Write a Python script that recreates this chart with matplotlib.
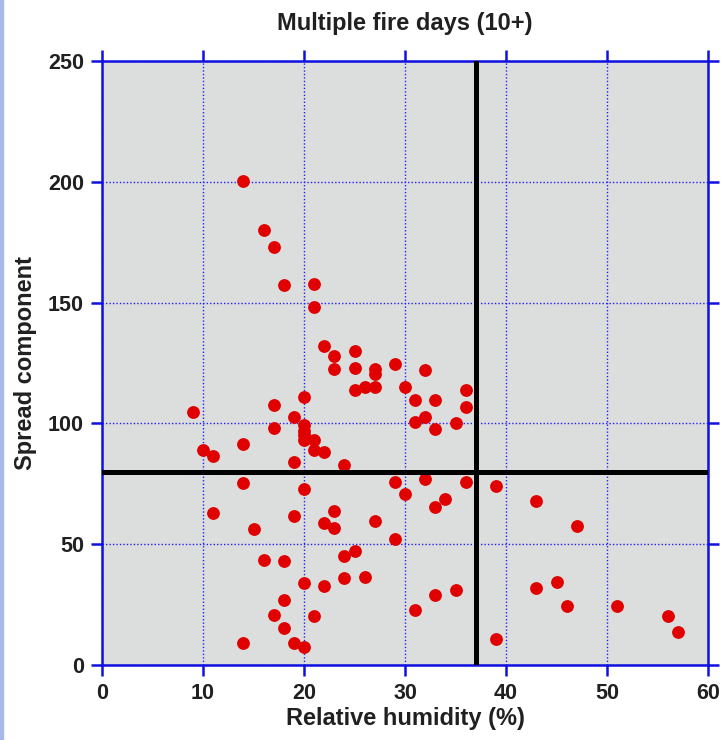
import numpy as np
import matplotlib.pyplot as plt
from matplotlib.patches import Rectangle

# datos
humedad = [14, 16, 17, 18, 21, 21, 22, 23, 23, 25, 25, 27, 27, 27, 26, 25, 29, 30,
           32, 31, 33, 36, 36, 32, 31, 35, 33, 20, 17, 9, 19, 20, 20, 20, 20, 17,
           21, 14, 10, 21, 22, 11, 19, 24, 14, 20, 11, 19, 23, 22, 23, 15, 16, 18,
           20, 22, 18, 17, 21, 18, 14, 19, 20, 29, 32, 36, 39, 30, 34, 33, 27, 29,
           25, 24, 24, 26, 35, 33, 31, 39, 43, 47, 45, 43, 46, 51, 56, 57]
propagacion = [200.5, 180, 173, 157.3, 157.6, 148, 132, 128, 122.3, 130, 123, 122.5,
               120.5, 115, 115, 114, 124.4, 115, 122, 109.6, 109.6, 113.8, 106.9,
               102.7, 100.7, 100, 97.8, 111, 107.6, 104.8, 102.7, 99.5, 97, 95, 93,
               97.9, 93, 91.6, 89, 88.8, 88.2, 86.6, 84, 82.7, 75.5, 72.9, 63, 61.7,
               63.8, 58.9, 56.8, 56.2, 43.5, 43, 33.9, 32.5, 27, 20.7, 20.1, 15.3,
               8.9, 8.9, 7.6, 75.6, 77, 75.6, 74.2, 70.8, 68.7, 65.3, 59.6, 52.2,
               47.2, 44.9, 36, 36.6, 31.1, 29, 22.9, 10.9, 67.9, 57.6, 34.5, 31.8,
               24.2, 24.2, 20.1, 13.8]
umbral_hr = 37
umbral_sc = 80
xticks = [0, 10, 20, 30, 40, 50, 60]
yticks = [0, 50, 100, 150, 200, 250]

plt.rcParams['font.family'] = ['Liberation Sans', 'DejaVu Sans']

fig = plt.figure(figsize=(7.25, 7.40), dpi=100)
ax = fig.add_axes([0.1407, 0.1014, 0.8359, 0.8162])
fig.patches.append(Rectangle((0, 0), 0.004, 1, transform=fig.transFigure,
                             color='#a8b8e8', zorder=0))

ax.set_facecolor('#dcdddd')
ax.set_xlim(0, 60)
ax.set_ylim(0, 250)
ax.set_xticks(xticks)
ax.set_yticks(yticks)
ax.grid(True, color='#2020ff', linestyle=(0, (1, 1.5)), linewidth=1.0)
ax.set_axisbelow(True)

for s in ax.spines.values():
    s.set_color('#1010e0')
    s.set_linewidth(1.8)
ax.tick_params(direction='out', length=8, width=1.8, color='#1010e0',
               top=True, right=True, labelsize=15.5)
ax.tick_params(axis='x', pad=5)
ax.tick_params(axis='y', pad=5)
for lbl in ax.get_xticklabels() + ax.get_yticklabels():
    lbl.set_fontweight('bold')
    lbl.set_color('#202020')

ax.plot(humedad, propagacion, 'o', color='#e00000', ms=8.2, mec='#e00000', zorder=3)

ax.axvline(umbral_hr, color='black', linewidth=3.6, zorder=4)
ax.axhline(umbral_sc, color='black', linewidth=3.6, zorder=4)

ax.set_title('Multiple fire days (10+)', fontsize=17, fontweight='bold', pad=22,
             color='#202020')
ax.set_xlabel('Relative humidity (%)', fontsize=17, fontweight='bold', labelpad=2,
              color='#202020')
ax.set_ylabel('Spread component', fontsize=17, fontweight='bold', labelpad=8,
              color='#202020')

fig.savefig('out.png', dpi=100)
